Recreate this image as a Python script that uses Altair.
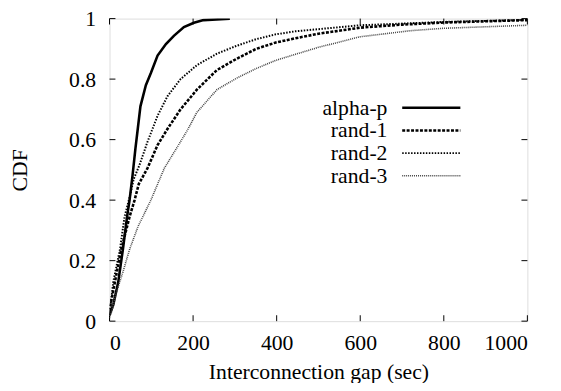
import altair as alt
import pandas as pd

series_names = ["alpha-p", "rand-1", "rand-2", "rand-3"]

alpha_x = [0, 9, 21, 32, 42, 48, 55, 62, 68, 74, 87, 99, 115, 135, 154, 178, 202, 225, 288]
alpha_y = [0.02, 0.054, 0.13, 0.237, 0.345, 0.40, 0.48, 0.57, 0.64, 0.71, 0.78, 0.82, 0.878, 0.916, 0.943, 0.972, 0.986, 0.995, 1.0]

rand1_x = [0, 1, 13, 28, 48, 60, 70, 91, 115, 139, 170, 209, 257, 304, 351, 398, 445, 500, 600, 700, 800, 1000]
rand1_y = [0.02, 0.043, 0.13, 0.237, 0.345, 0.40, 0.453, 0.506, 0.582, 0.636, 0.70, 0.765, 0.83, 0.867, 0.90, 0.921, 0.935, 0.95, 0.97, 0.98, 0.987, 0.995]

rand2_x = [0, 1, 9, 25, 36, 50, 58, 72, 91, 115, 139, 170, 209, 257, 304, 351, 398, 445, 600, 800, 1000]
rand2_y = [0.02, 0.033, 0.13, 0.237, 0.345, 0.42, 0.47, 0.517, 0.593, 0.679, 0.744, 0.80, 0.846, 0.884, 0.91, 0.932, 0.948, 0.958, 0.978, 0.989, 0.996]

rand3_x = [0, 5, 17, 32, 48, 68, 99, 131, 162, 186, 209, 257, 304, 351, 398, 445, 500, 600, 720, 800, 1000]
rand3_y = [0.01, 0.032, 0.097, 0.162, 0.237, 0.312, 0.40, 0.505, 0.575, 0.63, 0.69, 0.765, 0.803, 0.835, 0.862, 0.882, 0.905, 0.94, 0.96, 0.968, 0.978]

x_ticks = [0, 200, 400, 600, 800, 1000]
y_ticks = [0, 0.2, 0.4, 0.6, 0.8, 1.0]

W, H = 424, 307
FONT = "Times New Roman, Liberation Serif, serif"
FS = 22

xs = [alpha_x, rand1_x, rand2_x, rand3_x]
ys = [alpha_y, rand1_y, rand2_y, rand3_y]
styles = [
    dict(strokeWidth=2.6, color="black"),
    dict(strokeWidth=2.6, color="black", strokeDash=[3, 1.5]),
    dict(strokeWidth=2.0, color="black", strokeDash=[1.5, 1.5]),
    dict(strokeWidth=1.6, color="#444444", strokeDash=[1, 1]),
]

xscale = alt.Scale(domain=[0, 1000], nice=False, zero=False)
yscale = alt.Scale(domain=[0, 1], nice=False, zero=False)

layers = []

base_axes = alt.Chart(pd.DataFrame({"x": [0], "y": [0]})).mark_point(opacity=0).encode(
    x=alt.X("x:Q", scale=xscale, title="Interconnection gap (sec)",
            axis=alt.Axis(values=x_ticks, tickSize=0, domain=False, grid=False, format="d",
                          labelFont=FONT, labelFontSize=FS, labelPadding=12, labelColor="black",
                          titleFont=FONT, titleFontSize=FS, titleFontWeight="normal", titleColor="black",
                          titleY=51, titleBaseline="middle")),
    y=alt.Y("y:Q", scale=yscale, title="CDF",
            axis=alt.Axis(values=y_ticks, tickSize=0, domain=False, grid=False, format="~g",
                          labelFont=FONT, labelFontSize=FS, labelPadding=14, labelColor="black",
                          titleFont=FONT, titleFontSize=FS, titleFontWeight="normal", titleColor="black",
                          titleX=-91, titleBaseline="middle")),
)
layers.append(base_axes)

# inward ticks
tl = 6.0
dx = tl / W * 1000
dy = tl / H
xt = pd.DataFrame({"x": x_ticks * 2,
                   "y1": [0.0] * len(x_ticks) + [1.0] * len(x_ticks),
                   "y2": [dy] * len(x_ticks) + [1.0 - dy] * len(x_ticks)})
yt = pd.DataFrame({"y": y_ticks * 2,
                   "x1": [0.0] * len(y_ticks) + [1000.0] * len(y_ticks),
                   "x2": [dx] * len(y_ticks) + [1000.0 - dx] * len(y_ticks)})
layers.append(alt.Chart(xt).mark_rule(color="black", strokeWidth=1).encode(
    x=alt.X("x:Q", scale=xscale), y=alt.Y("y1:Q", scale=yscale), y2="y2:Q"))
layers.append(alt.Chart(yt).mark_rule(color="black", strokeWidth=1).encode(
    y=alt.Y("y:Q", scale=yscale), x=alt.X("x1:Q", scale=xscale), x2="x2:Q"))

for name, sx, sy, st in zip(series_names, xs, ys, styles):
    df = pd.DataFrame({"x": sx, "y": sy, "series": name})
    layers.append(alt.Chart(df).mark_line(clip=True, **st).encode(
        x=alt.X("x:Q", scale=xscale), y=alt.Y("y:Q", scale=yscale)))

# legend
leg_top = 90.5
leg_step = 23
for i, (name, st) in enumerate(zip(series_names, styles)):
    yy = leg_top + i * leg_step
    layers.append(alt.Chart(pd.DataFrame({"label": [name]})).mark_text(
        align="right", baseline="middle", font=FONT, fontSize=FS, color="black").encode(
        text="label:N", x=alt.value(282), y=alt.value(yy)))
    layers.append(alt.Chart(pd.DataFrame({"label": [name]})).mark_rule(**st).encode(
        x=alt.value(297), x2=alt.value(356), y=alt.value(yy), detail="label:N"))

chart = alt.layer(*layers).properties(
    width=W, height=H,
    autosize=alt.AutoSizeParams(type="none"),
    padding={"left": 103, "top": 8, "right": 26, "bottom": 60},
).configure_view(stroke="black", strokeWidth=1.2).configure(background="white")

chart.save("out.html", embed_options={"renderer": "svg", "actions": False})
